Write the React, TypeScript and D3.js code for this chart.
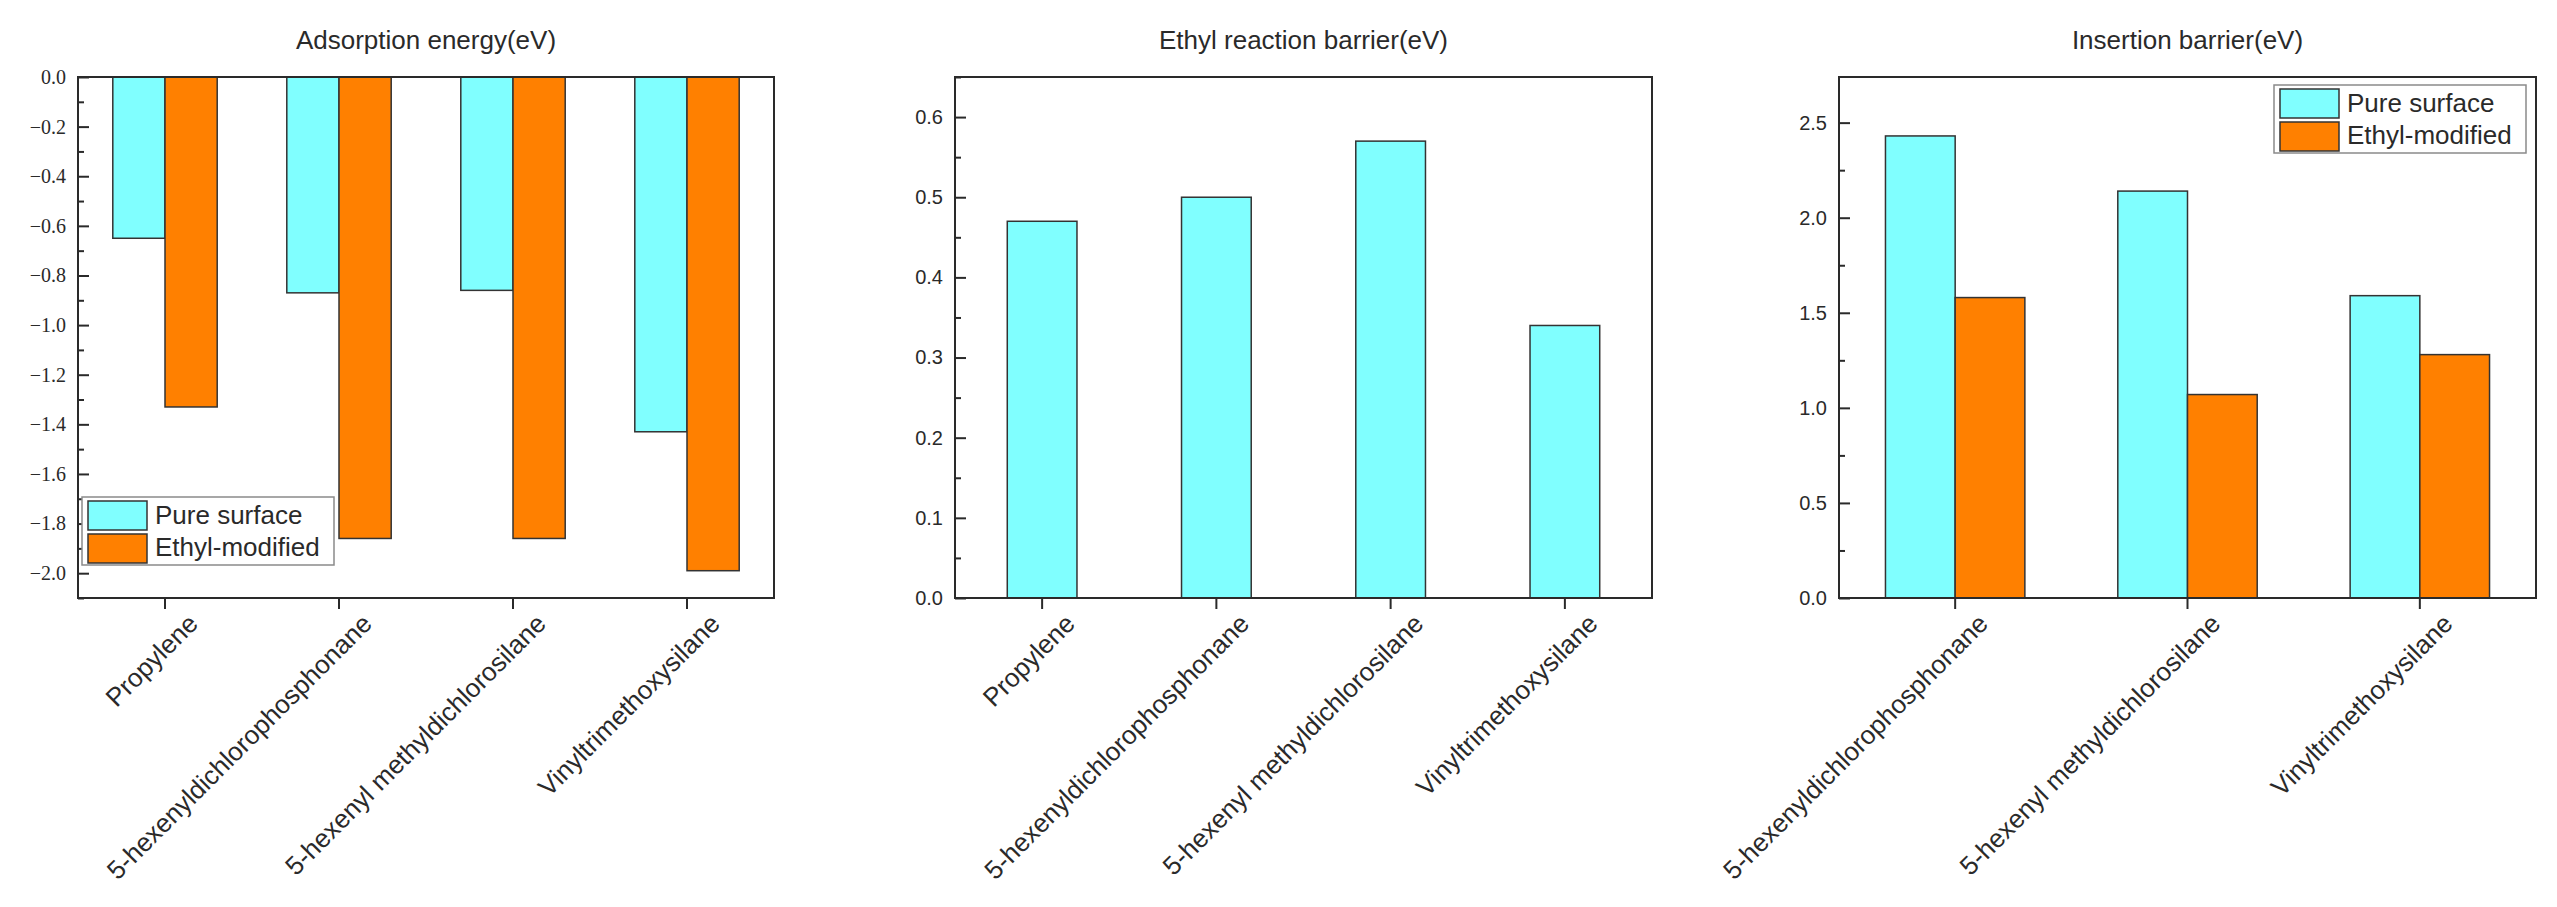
import { useRef, useEffect } from 'react';
import * as d3 from 'd3';

// ---- data ----
const adsCategories = [
    'Propylene',
    '5-hexenyldichlorophosphonane',
    '5-hexenyl methyldichlorosilane',
    'Vinyltrimethoxysilane',
];
const adsPure = [-0.65, -0.87, -0.86, -1.43];
const adsEthyl = [-1.33, -1.86, -1.86, -1.99];
const adsTicks = [0, -0.2, -0.4, -0.6, -0.8, -1.0, -1.2, -1.4, -1.6, -1.8, -2.0];

const ethCategories = [
    'Propylene',
    '5-hexenyldichlorophosphonane',
    '5-hexenyl methyldichlorosilane',
    'Vinyltrimethoxysilane',
];
const ethPure = [0.47, 0.50, 0.57, 0.34];
const ethTicks = [0, 0.1, 0.2, 0.3, 0.4, 0.5, 0.6];

const insCategories = [
    '5-hexenyldichlorophosphonane',
    '5-hexenyl methyldichlorosilane',
    'Vinyltrimethoxysilane',
];
const insPure = [2.43, 2.14, 1.59];
const insEthyl = [1.58, 1.07, 1.28];
const insTicks = [0, 0.5, 1.0, 1.5, 2.0, 2.5];

const seriesNames = ['Pure surface', 'Ethyl-modified'];
const seriesColors = ['#80ffff', '#ff8000'];

const W = 2557;
const H = 907;
const TOP = 77;
const BOTTOM = 598;
const INK = '#2a2a2a';
const SANS = '"Liberation Sans", Arial, sans-serif';
const SERIF = '"Liberation Serif", "Times New Roman", serif';

interface PanelCfg {
    title: string;
    left: number;
    right: number;
    domain: [number, number];
    categories: string[];
    series: number[][];
    ticks: number[];
    minorStep: number;
    groupFrac: number;
    tickFont: string;
    legend?: { x: number; y: number };
}

function drawPanel(svg: d3.Selection<SVGSVGElement, unknown, null, undefined>, cfg: PanelCfg) {
    const g = svg.append('g');
    const x = d3.scaleBand<string>().domain(cfg.categories).range([cfg.left, cfg.right]);
    const y = d3.scaleLinear().domain(cfg.domain).range([BOTTOM, TOP]);
    const nS = cfg.series.length;
    const inner = d3.scaleBand<number>()
        .domain(d3.range(nS))
        .range([0, x.step() * cfg.groupFrac]);
    const offset = (x.bandwidth() - x.step() * cfg.groupFrac) / 2;
    const base = y(Math.max(cfg.domain[0], Math.min(0, cfg.domain[1])));

    // bars
    cfg.series.forEach((vals, si) => {
        g.selectAll(null)
            .data(vals)
            .enter()
            .append('rect')
            .attr('x', (_, i) => (x(cfg.categories[i]) ?? 0) + offset + (inner(si) ?? 0))
            .attr('width', inner.bandwidth())
            .attr('y', (d) => Math.min(y(d), base))
            .attr('height', (d) => Math.abs(y(d) - base))
            .attr('fill', seriesColors[si])
            .attr('stroke', '#333')
            .attr('stroke-width', 1.5);
    });

    // y axis: major + minor ticks pointing inward
    const minor = d3.range(cfg.domain[0], cfg.domain[1] + 1e-9, cfg.minorStep)
        .filter((v) => !cfg.ticks.some((t) => Math.abs(t - v) < 1e-6));
    const yMinor = g.append('g')
        .attr('transform', `translate(${cfg.left},0)`)
        .call(d3.axisLeft(y).tickValues(minor).tickSize(-6).tickFormat(() => ''));
    const yMajor = g.append('g')
        .attr('transform', `translate(${cfg.left},0)`)
        .call(d3.axisLeft(y).tickValues(cfg.ticks).tickSize(-11).tickPadding(12).tickFormat(d3.format('.1f')));
    [yMinor, yMajor].forEach((a) => {
        a.select('.domain').remove();
        a.selectAll('line').attr('stroke', INK).attr('stroke-width', 2);
    });
    yMajor.selectAll('text')
        .attr('font-family', cfg.tickFont)
        .attr('font-size', 20)
        .attr('fill', INK);

    // x axis: outward ticks, rotated labels
    const xAx = g.append('g')
        .attr('transform', `translate(0,${BOTTOM})`)
        .call(d3.axisBottom(x).tickSize(11).tickFormat(() => ''));
    xAx.select('.domain').remove();
    xAx.selectAll('line').attr('stroke', INK).attr('stroke-width', 2);

    g.selectAll(null)
        .data(cfg.categories)
        .enter()
        .append('text')
        .attr('transform', (d) => `translate(${(x(d) ?? 0) + x.bandwidth() / 2 + 28},${BOTTOM + 21}) rotate(-45)`)
        .attr('text-anchor', 'end')
        .attr('dominant-baseline', 'central')
        .attr('font-family', SANS)
        .attr('font-size', 26)
        .attr('fill', INK)
        .text((d) => d);

    // frame
    g.append('rect')
        .attr('x', cfg.left)
        .attr('y', TOP)
        .attr('width', cfg.right - cfg.left)
        .attr('height', BOTTOM - TOP)
        .attr('fill', 'none')
        .attr('stroke', INK)
        .attr('stroke-width', 2);

    // title
    g.append('text')
        .attr('x', (cfg.left + cfg.right) / 2)
        .attr('y', 49)
        .attr('text-anchor', 'middle')
        .attr('font-family', SANS)
        .attr('font-size', 26)
        .attr('fill', INK)
        .text(cfg.title);

    // legend
    if (cfg.legend) {
        const lg = g.append('g').attr('transform', `translate(${cfg.legend.x},${cfg.legend.y})`);
        lg.append('rect')
            .attr('width', 252)
            .attr('height', 68)
            .attr('fill', '#fff')
            .attr('stroke', '#8a8a8a')
            .attr('stroke-width', 1.5);
        seriesNames.forEach((name, i) => {
            lg.append('rect')
                .attr('x', 6)
                .attr('y', 4 + i * 33)
                .attr('width', 59)
                .attr('height', 29)
                .attr('fill', seriesColors[i])
                .attr('stroke', '#333')
                .attr('stroke-width', 1.5);
            lg.append('text')
                .attr('x', 73)
                .attr('y', 27 + i * 32)
                .attr('font-family', SANS)
                .attr('font-size', 26)
                .attr('fill', INK)
                .text(name);
        });
    }
}

export default function App() {
    const svgRef = useRef<SVGSVGElement>(null);

    useEffect(() => {
        if (!svgRef.current) return;
        const svg = d3.select(svgRef.current);
        svg.selectAll('*').remove();

        drawPanel(svg, {
            title: 'Adsorption energy(eV)',
            left: 78,
            right: 774,
            domain: [-2.1, 0],
            categories: adsCategories,
            series: [adsPure, adsEthyl],
            ticks: adsTicks,
            minorStep: 0.1,
            groupFrac: 0.6,
            tickFont: SERIF,
            legend: { x: 82, y: 497 },
        });
        drawPanel(svg, {
            title: 'Ethyl reaction barrier(eV)',
            left: 955,
            right: 1652,
            domain: [0, 0.65],
            categories: ethCategories,
            series: [ethPure],
            ticks: ethTicks,
            minorStep: 0.05,
            groupFrac: 0.4,
            tickFont: SANS,
        });
        drawPanel(svg, {
            title: 'Insertion barrier(eV)',
            left: 1839,
            right: 2536,
            domain: [0, 2.74],
            categories: insCategories,
            series: [insPure, insEthyl],
            ticks: insTicks,
            minorStep: 0.25,
            groupFrac: 0.6,
            tickFont: SANS,
            legend: { x: 2274, y: 85 },
        });
    }, []);

    return (
        <svg
            ref={svgRef}
            width={W}
            height={H}
            style={{ position: 'absolute', left: 0, top: 0, background: '#fff', display: 'block' }}
        />
    );
}
